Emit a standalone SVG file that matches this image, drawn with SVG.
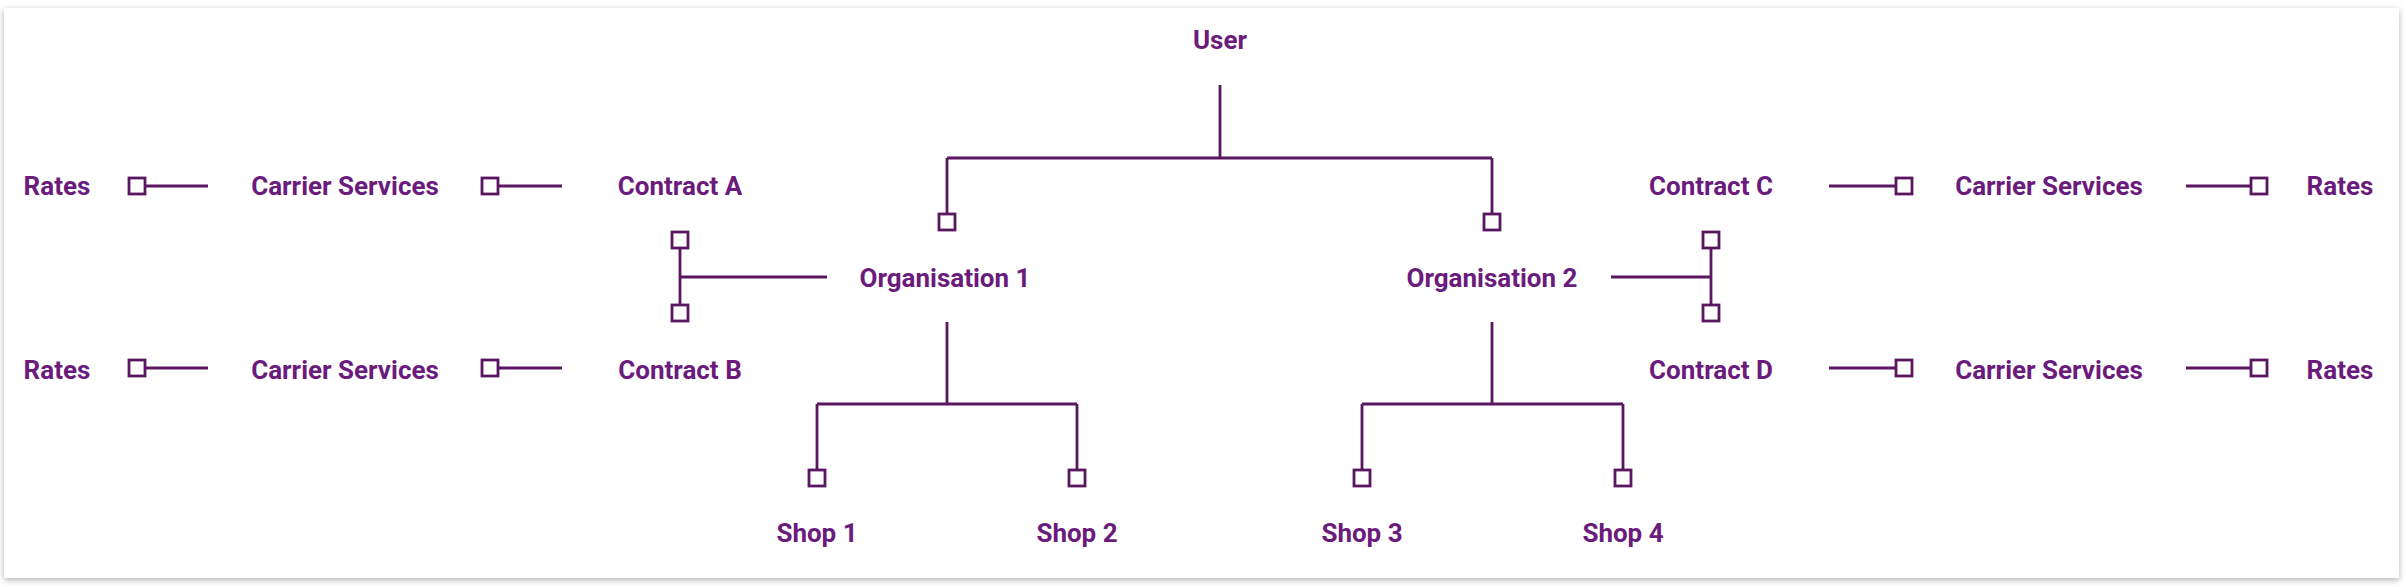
<svg xmlns="http://www.w3.org/2000/svg" width="2406" height="587" viewBox="0 0 2406 587">
<style>
.t{font-family:Roboto,"Liberation Sans",sans-serif;font-weight:700;font-size:26px;fill:#6a1b7c;text-anchor:middle}
.c{fill:none;stroke:#5a1660;stroke-width:2.8}
.s{fill:#fff;stroke:#5a1660;stroke-width:2.8}
</style>
<defs>
<filter id="sh" x="-2%" y="-5%" width="104%" height="112%">
<feDropShadow dx="0" dy="2" stdDeviation="3" flood-color="#000" flood-opacity="0.3"/>
</filter>
</defs>
<rect x="0" y="0" width="2406" height="587" fill="#fff"/>
<rect x="4" y="8" width="2395" height="570" fill="#fff" filter="url(#sh)"/>
<g id="connectors">
<path class="c" d="M1220 85V158M947 158H1492M947 158V214M1492 158V214"/>
<path class="c" d="M947 322V404M817 404H1077M817 404V470M1077 404V470"/>
<path class="c" d="M1492 322V404M1362 404H1623M1362 404V470M1623 404V470"/>
<path class="c" d="M827 277H680M680 248V305"/>
<path class="c" d="M1611 277H1711M1711 248V305"/>
<path class="c" d="M145 186H208M498 186H562M145 368H208M498 368H562"/>
<path class="c" d="M1829 186H1896M2186 186H2251M1829 368H1896M2186 368H2251"/>
<rect class="s" x="939" y="214" width="16" height="16"/>
<rect class="s" x="1484" y="214" width="16" height="16"/>
<rect class="s" x="809" y="470" width="16" height="16"/>
<rect class="s" x="1069" y="470" width="16" height="16"/>
<rect class="s" x="1354" y="470" width="16" height="16"/>
<rect class="s" x="1615" y="470" width="16" height="16"/>
<rect class="s" x="672" y="232" width="16" height="16"/>
<rect class="s" x="672" y="305" width="16" height="16"/>
<rect class="s" x="1703" y="232" width="16" height="16"/>
<rect class="s" x="1703" y="305" width="16" height="16"/>
<rect class="s" x="129" y="178" width="16" height="16"/>
<rect class="s" x="482" y="178" width="16" height="16"/>
<rect class="s" x="129" y="360" width="16" height="16"/>
<rect class="s" x="482" y="360" width="16" height="16"/>
<rect class="s" x="1896" y="178" width="16" height="16"/>
<rect class="s" x="2251" y="178" width="16" height="16"/>
<rect class="s" x="1896" y="360" width="16" height="16"/>
<rect class="s" x="2251" y="360" width="16" height="16"/>
</g>
<g id="user"><text class="t" x="1220" y="49">User</text></g>
<g id="org1"><text class="t" x="945" y="287">Organisation 1</text></g>
<g id="org2"><text class="t" x="1492" y="287">Organisation 2</text></g>
<g id="shop1"><text class="t" x="817" y="542">Shop 1</text></g>
<g id="shop2"><text class="t" x="1077" y="542">Shop 2</text></g>
<g id="shop3"><text class="t" x="1362" y="542">Shop 3</text></g>
<g id="shop4"><text class="t" x="1623" y="542">Shop 4</text></g>
<g id="contractA"><text class="t" x="680" y="195">Contract A</text></g>
<g id="contractB"><text class="t" x="680" y="379">Contract B</text></g>
<g id="contractC"><text class="t" x="1711" y="195">Contract C</text></g>
<g id="contractD"><text class="t" x="1711" y="379">Contract D</text></g>
<g id="carrierA"><text class="t" x="345" y="195">Carrier Services</text></g>
<g id="carrierB"><text class="t" x="345" y="379">Carrier Services</text></g>
<g id="carrierC"><text class="t" x="2049" y="195">Carrier Services</text></g>
<g id="carrierD"><text class="t" x="2049" y="379">Carrier Services</text></g>
<g id="ratesA"><text class="t" x="57" y="195">Rates</text></g>
<g id="ratesB"><text class="t" x="57" y="379">Rates</text></g>
<g id="ratesC"><text class="t" x="2340" y="195">Rates</text></g>
<g id="ratesD"><text class="t" x="2340" y="379">Rates</text></g>
</svg>
